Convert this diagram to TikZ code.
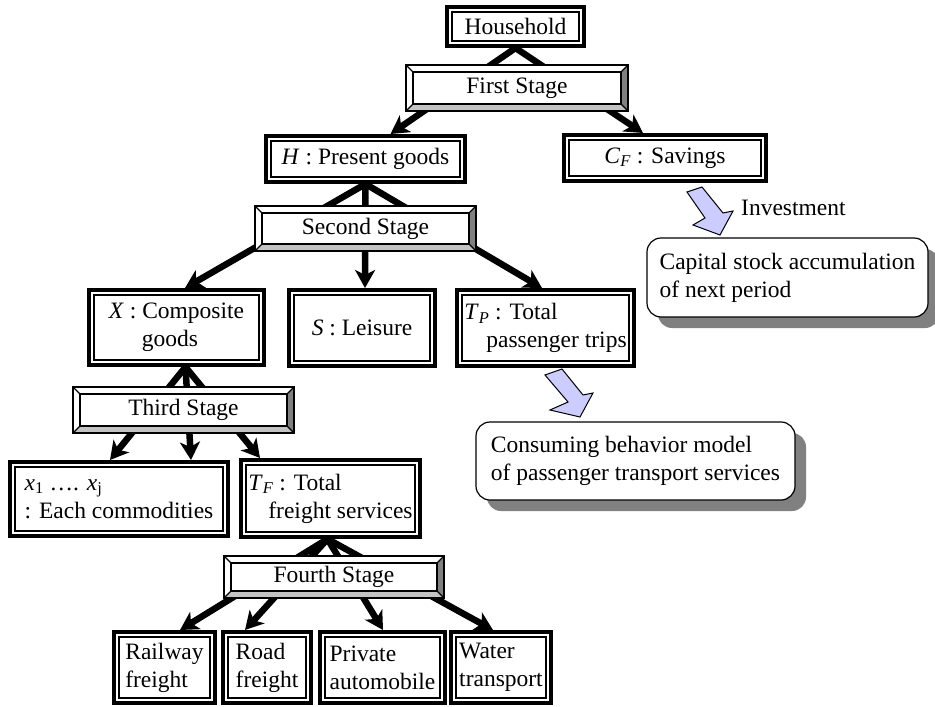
\documentclass[tikz,border=0pt]{standalone}
\usepackage{fontspec}
\setmainfont{Liberation Serif}
\usetikzlibrary{arrows.meta}
\definecolor{arrowfill}{RGB}{204,204,255}
\definecolor{bevdark}{RGB}{128,128,128}
\definecolor{bevlight}{RGB}{195,195,195}
\definecolor{shadowgray}{RGB}{128,128,128}

\tikzset{
  dblnode/.style={draw, line width=4, fill=white, inner sep=0, align=center},
  dblleft/.style={dblnode, align=left},
  dblinner/.style={line width=1.8},
  stagenode/.style={fill=white, draw=none, inner sep=0, outer sep=0},
  bevline/.style={line width=1.3},
  conn/.style={line width=6.5, -{Stealth[length=18pt,width=20pt,inset=5pt]}},
  blockarrow/.style={fill=arrowfill, draw=black, line width=1, line join=miter},
  roundnode/.style={draw, line width=1.2, fill=white, rounded corners=14, align=left, inner sep=0},
  shadowbox/.style={fill=shadowgray, rounded corners=14},
}

\newcommand{\dblbox}[7]{%
  \node[#7, minimum width={#4-#2-4}, minimum height={#5-#3-4}] (#1) at ({(#2+#4)/2},{(#3+#5)/2}) {#6};
  \draw[dblinner] ([shift={(7,7)}]#1.north west) rectangle ([shift={(-7,-7)}]#1.south east);}

\newcommand{\stagebox}[6]{%
  \node[stagenode, minimum width={#4-#2}, minimum height={#5-#3}] (#1) at ({(#2+#4)/2},{(#3+#5)/2}) {#6};
  \fill[bevlight] (#1.south west) -- (#1.south east) -- ([shift={(-7,-7)}]#1.south east) -- ([shift={(7,-7)}]#1.south west) -- cycle;
  \fill[bevdark] (#1.north east) -- (#1.south east) -- ([shift={(-7,-7)}]#1.south east) -- ([shift={(-7,7)}]#1.north east) -- cycle;
  \draw[bevline] (#1.north west) rectangle (#1.south east);
  \draw[bevline] ([shift={(7,7)}]#1.north west) rectangle ([shift={(-7,-7)}]#1.south east);
  \draw[bevline] (#1.north west) -- ([shift={(7,7)}]#1.north west)
                 (#1.north east) -- ([shift={(-7,7)}]#1.north east)
                 (#1.south west) -- ([shift={(7,-7)}]#1.south west)
                 (#1.south east) -- ([shift={(-7,-7)}]#1.south east);}

\begin{document}
\begin{tikzpicture}[x=1pt, y=-1pt, font=\fontsize{23.5}{28}\selectfont]
\useasboundingbox (0,0) rectangle (935,707);

% double-bordered boxes
\dblbox{hh}{445}{5}{586}{48}{Household}{dblnode}
\dblbox{hgood}{264}{134}{467}{184}{\textit{H} : Present goods}{dblnode}
\dblbox{cf}{562}{133}{768}{183}{\textit{C}\textsubscript{\textit{F}} : Savings}{dblnode}
\dblbox{xg}{87}{288}{266}{367}{\textit{X} : Composite\\\hspace*{33pt}goods}{dblleft}
\dblbox{sl}{287}{288}{437}{368}{\textit{S} : Leisure}{dblnode}
\dblbox{tp}{455}{288}{636}{368}{\textit{T}\textsubscript{\textit{P}} : Total\\\hspace*{22pt}passenger trips}{dblleft}
\dblbox{xc}{8}{460}{230}{538}{\textit{x}\textsubscript{1} …. \textit{x}\textsubscript{j}\\: Each commodities}{dblleft}
\dblbox{tf}{239}{458}{422}{539}{\textit{T}\textsubscript{\textit{F}} : Total\\\hspace*{20pt}freight services}{dblleft}
\dblbox{rail}{112}{630}{217}{705}{Railway\\freight}{dblleft}
\dblbox{road}{221}{630}{313}{705}{Road\\freight}{dblleft}
\dblbox{priv}{318}{630}{447}{705}{Private\\automobile}{dblleft}
\dblbox{water}{449}{630}{553}{705}{Water\\transport}{dblleft}

% connectors
\draw[conn] (hh.south) -- ([xshift=25]hgood.north);
\draw[conn] (hh.south) -- ([xshift=-22]cf.north);
\draw[conn] (hgood.south) -- ([xshift=8.5]xg.north);
\draw[conn] (hgood.south) -- ([xshift=3]sl.north);
\draw[conn] (hgood.south) -- ([xshift=-3.5]tp.north);
\draw[conn] ([xshift=9]xg.south) -- ([xshift=-9]xc.north);
\draw[conn] ([xshift=9]xg.south) -- ([xshift=72]xc.north);
\draw[conn] ([xshift=9]xg.south) -- ([xshift=-70.5]tf.north);
\draw[conn] ([xshift=-3]tf.south) -- ([xshift=15.5]rail.north);
\draw[conn] ([xshift=-3]tf.south) -- ([xshift=-22]road.north);
\draw[conn] ([xshift=-3]tf.south) -- ([xshift=0.5]priv.north);
\draw[conn] ([xshift=-3]tf.south) -- ([xshift=-8]water.north);

% stage boxes
\stagebox{s1}{406}{65}{628}{111}{First Stage}
\stagebox{s2}{255}{206}{476}{251}{Second Stage}
\stagebox{s3}{73}{387}{294}{433}{Third Stage}
\stagebox{s4}{224}{556}{444}{598}{Fourth Stage}

% block arrows
\draw[blockarrow] (687,192) -- (702,187) -- (723,213) -- (733,211) -- (720,235) -- (693,225) -- (705,218) -- cycle;
\draw[blockarrow] (545,375) -- (562,369) -- (583,395) -- (593,393) -- (580,417) -- (550,410) -- (568,402) -- cycle;

\node[anchor=base west, inner sep=0] (inv) at (741,215) {Investment};

% rounded boxes with shadows
\fill[shadowbox] (658,249) rectangle (939,328);
\node[roundnode, minimum width=281, minimum height=79] (cap) at (787.5,277.5) {Capital stock accumulation\\of next period};
\fill[shadowbox] (487,433) rectangle (806,511);
\node[roundnode, minimum width=319, minimum height=78] (cons) at (635.5,461) {Consuming behavior model\\of passenger transport services};
\end{tikzpicture}
\end{document}
